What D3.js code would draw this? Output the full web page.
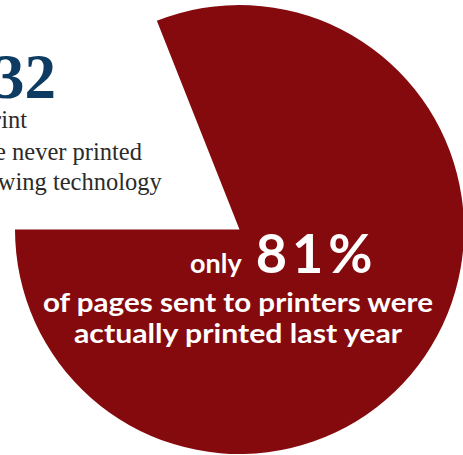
<!DOCTYPE html>
<html>
<head>
<meta charset="utf-8">
<script src="https://cdn.jsdelivr.net/npm/d3@7"></script>
<style>
  html, body { margin: 0; padding: 0; background: #fff; overflow: hidden; }
  svg { display: block; }
</style>
</head>
<body>
<svg id="chart" width="463" height="455"></svg>
<script>
// Share of pages sent to printers
const categories = ["never printed", "actually printed"];
const shares = [19, 81];
const sliceColors = ["#ffffff", "#850a0e"];

// Callout texts
const bigNumber = "1,632";
const sideLines = ["sent to print", "which are never printed", "and following technology"];
const headlineLead = "only";
const headlineValue = shares[1] + "%";
const subLines = ["of pages sent to printers were", "actually printed last year"];

const svg = d3.select("#chart");
const cx = 239.5, cy = 229.5, radius = 224.5;

const pie = d3.pie().sort(null).value(d => d).startAngle(-Math.PI / 2).endAngle(3 * Math.PI / 2);
const arc = d3.arc().innerRadius(0).outerRadius(radius);

const g = svg.append("g").attr("transform", `translate(${cx},${cy})`);
g.selectAll("path")
  .data(pie(shares))
  .join("path")
  .attr("d", arc)
  .attr("fill", (d, i) => sliceColors[i])
  .attr("data-category", (d, i) => categories[i]);

// Left callout in the open slice
svg.append("text")
  .attr("x", 56).attr("y", 98)
  .attr("text-anchor", "end")
  .attr("font-family", "Liberation Serif, serif")
  .attr("font-weight", 700)
  .attr("font-size", 63)
  .attr("fill", "#0d3b61")
  .text(bigNumber);

const sideY = [128, 160, 190];
svg.append("g")
  .attr("font-family", "Liberation Serif, serif")
  .attr("font-size", 24.5)
  .attr("fill", "#2b2b2b")
  .selectAll("text")
  .data(sideLines)
  .join("text")
  .attr("x", -90)
  .attr("y", (d, i) => sideY[i])
  .text(d => d);

// Headline inside the printed slice
const head = svg.append("text")
  .attr("x", 190).attr("y", 273)
  .attr("font-family", "Lato, sans-serif")
  .attr("font-weight", 700)
  .attr("fill", "#fff");
head.append("tspan").attr("font-size", 27).text(headlineLead);
head.append("tspan").attr("dx", 14).attr("font-size", 54)
  .attr("letter-spacing", 5).text(headlineValue);

const subY = [312, 343];
const subW = [390, 328];
svg.append("g")
  .attr("font-family", "Lato, sans-serif")
  .attr("font-weight", 700)
  .attr("font-size", 27)
  .attr("fill", "#fff")
  .attr("text-anchor", "middle")
  .selectAll("text")
  .data(subLines)
  .join("text")
  .attr("x", 238)
  .attr("y", (d, i) => subY[i])
  .attr("textLength", (d, i) => subW[i])
  .attr("lengthAdjust", "spacingAndGlyphs")
  .text(d => d);
</script>
</body>
</html>
